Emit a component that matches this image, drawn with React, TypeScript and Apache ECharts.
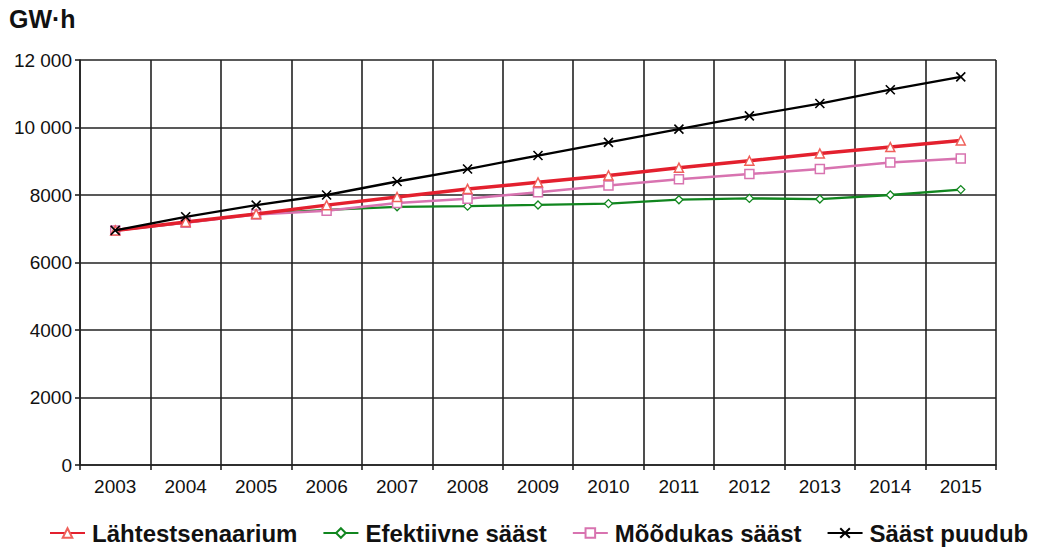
import React, { useEffect, useRef } from "react";
import * as echarts from "echarts";

const years = ["2003", "2004", "2005", "2006", "2007", "2008", "2009", "2010", "2011", "2012", "2013", "2014", "2015"];
const lahtestsenaarium = [6950, 7200, 7440, 7700, 7940, 8180, 8375, 8580, 8810, 9015, 9230, 9420, 9615];
const efektiivne = [6950, 7180, 7440, 7560, 7650, 7670, 7705, 7745, 7860, 7900, 7880, 8000, 8160];
const moodukas = [6950, 7180, 7420, 7530, 7760, 7890, 8080, 8285, 8465, 8620, 8770, 8965, 9085];
const puudub = [6950, 7355, 7700, 8000, 8400, 8770, 9170, 9560, 9950, 10345, 10710, 11120, 11500];
const yTickLabels: Record<number, string> = { 0: "0", 2000: "2000", 4000: "4000", 6000: "6000", 8000: "8000", 10000: "10 000", 12000: "12 000" };
const seriesNames = ["Lähtestsenaarium", "Efektiivne sääst", "Mõõdukas sääst", "Sääst puudub"];

const FONT = "'Liberation Sans', Arial, sans-serif";

export default function App() {
  const ref = useRef<HTMLDivElement>(null);
  useEffect(() => {
    if (!ref.current) return;
    const chart = echarts.init(ref.current, undefined, { renderer: "svg" });
    chart.setOption({
      animation: false,
      backgroundColor: "#fff",
      textStyle: { fontFamily: FONT },
      graphic: [
        { type: "text", left: 9, top: 6, style: { text: "GW·h", font: `bold 25px ${FONT}`, fill: "#111" } },
      ],
      grid: { left: 80, right: 41, top: 60, bottom: 85, containLabel: false },
      legend: {
        bottom: 0,
        left: 44,
        itemWidth: 35,
        itemHeight: 12,
        itemGap: 25,
        textStyle: { fontSize: 24, fontWeight: "bold", color: "#111", fontFamily: FONT, padding: [0, 0, 0, 2] },
        data: seriesNames,
      },
      xAxis: {
        type: "category",
        data: years,
        boundaryGap: true,
        axisLine: { show: true, lineStyle: { color: "#222", width: 1.6 } },
        axisTick: { show: true, length: 5, lineStyle: { color: "#222", width: 1.6 } },
        splitLine: { show: true, lineStyle: { color: "#222", width: 1.6 } },
        axisLabel: { color: "#111", fontSize: 19, margin: 12, fontFamily: FONT },
      },
      yAxis: {
        type: "value",
        min: 0,
        max: 12000,
        interval: 2000,
        axisLine: { show: true, lineStyle: { color: "#222", width: 1.6 } },
        axisTick: { show: true, length: 5, lineStyle: { color: "#222", width: 1.6 } },
        splitLine: { show: true, lineStyle: { color: "#222", width: 1.6 } },
        axisLabel: { color: "#111", fontSize: 19, margin: 8, fontFamily: FONT, formatter: (v: number) => yTickLabels[v] ?? String(v) },
      },
      series: [
        {
          name: seriesNames[0],
          type: "line",
          data: lahtestsenaarium,
          symbol: "triangle",
          symbolSize: 9,
          lineStyle: { color: "#E3202E", width: 3.5 },
          itemStyle: { color: "#fff", borderColor: "#F0605A", borderWidth: 1.5 },
          z: 4,
        },
        {
          name: seriesNames[1],
          type: "line",
          data: efektiivne,
          symbol: "diamond",
          symbolSize: 8,
          lineStyle: { color: "#11861F", width: 2.3 },
          itemStyle: { color: "#fff", borderColor: "#11861F", borderWidth: 1.3 },
          z: 2,
        },
        {
          name: seriesNames[2],
          type: "line",
          data: moodukas,
          symbol: "rect",
          symbolSize: 9,
          lineStyle: { color: "#D873B0", width: 2.5 },
          itemStyle: { color: "#fff", borderColor: "#D873B0", borderWidth: 1.5 },
          z: 3,
        },
        {
          name: seriesNames[3],
          type: "line",
          data: puudub,
          symbol: "path://M0,0L10,10M10,0L0,10",
          symbolSize: 9,
          lineStyle: { color: "#000", width: 2.3 },
          itemStyle: { color: "#000", borderColor: "#000", borderWidth: 1.6 },
          z: 5,
        },
      ],
    });
    return () => chart.dispose();
  }, []);
  return <div ref={ref} style={{ width: 1037, height: 550, position: "absolute", left: 0, top: 0 }} />;
}
